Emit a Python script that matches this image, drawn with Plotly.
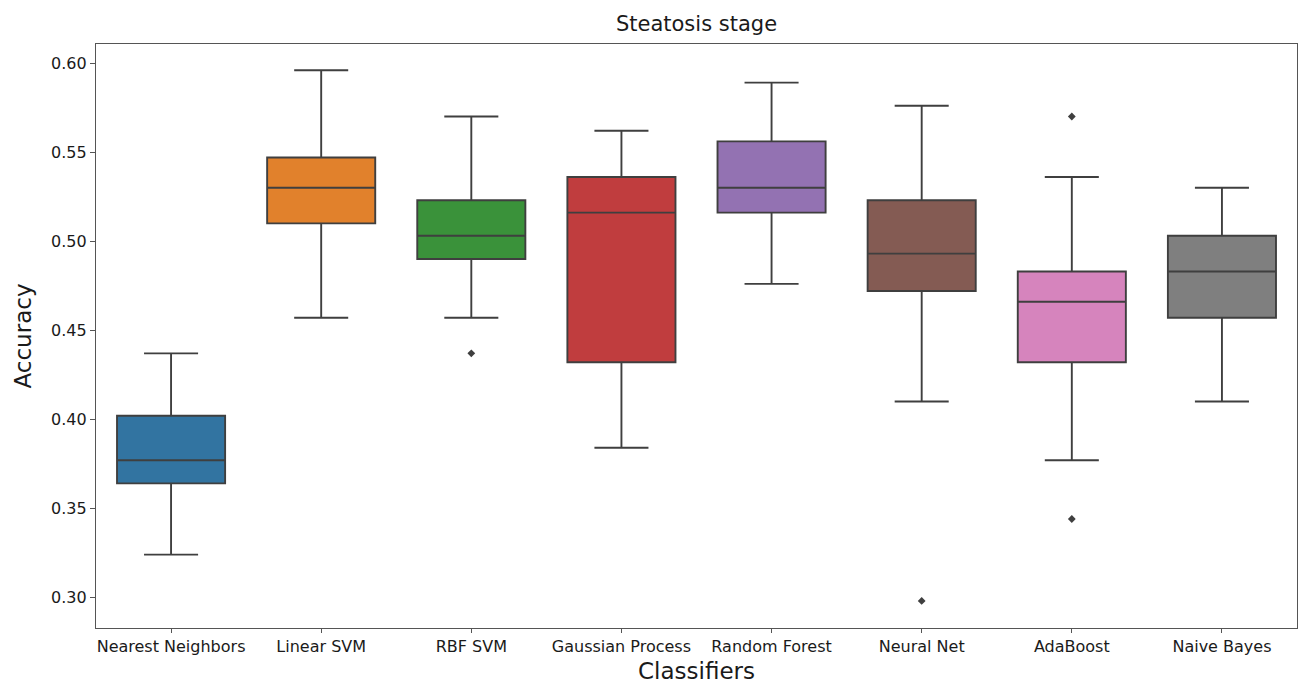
import plotly.graph_objects as go

# Box statistics per classifier (accuracy over cross-validation folds)
classifiers = ["Nearest Neighbors", "Linear SVM", "RBF SVM", "Gaussian Process",
               "Random Forest", "Neural Net", "AdaBoost", "Naive Bayes"]
lower_whisker = [0.324, 0.457, 0.457, 0.384, 0.476, 0.410, 0.377, 0.410]
q1 = [0.364, 0.510, 0.490, 0.432, 0.516, 0.472, 0.432, 0.457]
median = [0.377, 0.530, 0.503, 0.516, 0.530, 0.493, 0.466, 0.483]
q3 = [0.402, 0.547, 0.523, 0.536, 0.556, 0.523, 0.483, 0.503]
upper_whisker = [0.437, 0.596, 0.570, 0.562, 0.589, 0.576, 0.536, 0.530]

# Points beyond the whiskers
outlier_class = ["RBF SVM", "Neural Net", "AdaBoost", "AdaBoost"]
outlier_value = [0.437, 0.298, 0.570, 0.344]

palette = ["#3274a1", "#e1812c", "#3a923a", "#c03d3e",
           "#9372b2", "#845b53", "#d684bd", "#7f7f7f"]
edge = "#3f3f3f"

fig = go.Figure()
for i, name in enumerate(classifiers):
    fig.add_trace(go.Box(
        x=[name], q1=[q1[i]], median=[median[i]], q3=[q3[i]],
        lowerfence=[lower_whisker[i]], upperfence=[upper_whisker[i]],
        fillcolor=palette[i], line=dict(color=edge, width=1.9),
        width=0.72, whiskerwidth=0.5, boxpoints=False,
        showlegend=False, hoverinfo="skip",
    ))

fig.add_trace(go.Scatter(
    x=outlier_class, y=outlier_value, mode="markers",
    marker=dict(symbol="diamond", size=6, color=edge),
    showlegend=False, hoverinfo="skip",
))

font_family = "DejaVu Sans"
text_color = "#1a1a1a"
fig.update_layout(
    width=1306, height=684,
    margin=dict(l=96, r=9, t=44, b=56),
    paper_bgcolor="white", plot_bgcolor="white",
    boxmode="overlay",
    font=dict(family=font_family, color=text_color),
    title=dict(text="Steatosis stage", x=0.5, xref="paper", xanchor="center",
               y=1 - 24 / 684, yref="container", yanchor="middle",
               font=dict(size=21, family=font_family, color=text_color)),
)

fig.update_xaxes(
    type="category", categoryorder="array", categoryarray=classifiers,
    range=[-0.5, 7.5], automargin=False,
    title=dict(text="Classifiers", font=dict(size=23), standoff=10),
    tickfont=dict(size=16), ticks="outside", ticklen=4, tickcolor="#555555",
    showline=True, linecolor="#555555", linewidth=1.3, mirror=True,
    showgrid=False, zeroline=False,
)
fig.update_yaxes(
    range=[0.2828, 0.6107], automargin=False,
    tickvals=[0.30, 0.35, 0.40, 0.45, 0.50, 0.55, 0.60],
    ticktext=["0.30", "0.35", "0.40", "0.45", "0.50", "0.55", "0.60"],
    title=dict(text="Accuracy", font=dict(size=23), standoff=12),
    tickfont=dict(size=16), ticks="outside", ticklen=5, tickcolor="#555555",
    showline=True, linecolor="#555555", linewidth=1.3, mirror=True,
    showgrid=False, zeroline=False,
)

fig.write_html("out.html")
